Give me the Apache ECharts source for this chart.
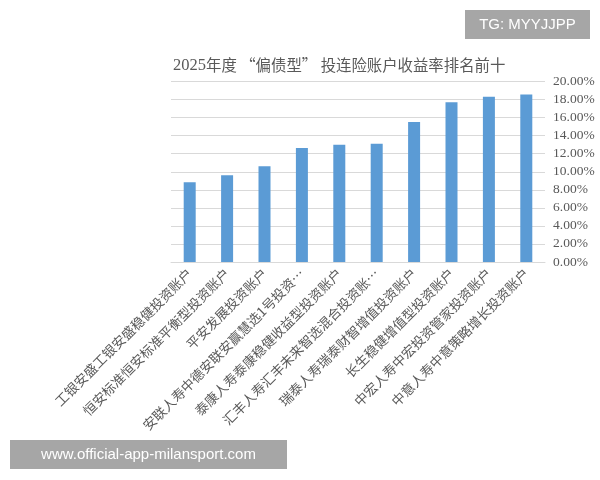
<!DOCTYPE html>
<html>
<head>
<meta charset="utf-8">
<script src="https://cdn.jsdelivr.net/npm/echarts@6/dist/echarts.min.js"></script>
<style>html,body{margin:0;padding:0;background:#fff;}#c{width:600px;height:480px;}</style>
</head>
<body>
<div id="c"></div>
<script>
var titleYear = '2025';
var titleRest = '年度 “偏债型” 投连险账户收益率排名前十';
var categories = [
  '工银安盛工银安盛稳健投资账户',
  '恒安标准恒安标准平衡型投资账户',
  '平安发展投资账户',
  '安联人寿中德安联安赢慧选1号投资…',
  '泰康人寿泰康稳健收益型投资账户',
  '汇丰人寿汇丰未来智选混合投资账…',
  '瑞泰人寿瑞泰财智增值投资账户',
  '长生稳健增值型投资账户',
  '中宏人寿中宏投资管家投资账户',
  '中意人寿中意策略增长投资账户'
];
var returns = [0.0883, 0.0960, 0.1060, 0.1264, 0.1300, 0.1310, 0.1550, 0.1770, 0.1830, 0.1855];
var yMin = 0, yMax = 0.20, yStep = 0.02;
var tgText = 'TG: MYYJJPP';
var urlText = 'www.official-app-milansport.com';

var chart = echarts.init(document.getElementById('c'), null, {renderer: 'canvas'});
chart.setOption({
  animation: false,
  backgroundColor: '#ffffff',
  title: {
    text: '{y|' + titleYear + '}{c|' + titleRest + '}',
    left: 168, top: 52,
    textStyle: {
      fontWeight: 'normal',
      rich: {
        y: {fontFamily: 'Liberation Serif', fontSize: 16.5, fontWeight: 'normal', color: '#595959'},
        c: {fontFamily: 'Noto Sans CJK SC', fontSize: 15.4, fontWeight: 'normal', color: '#595959'}
      }
    }
  },
  grid: {left: 171, right: 55, top: 81.5, bottom: 218, containLabel: false},
  xAxis: {
    type: 'category',
    data: categories,
    axisLine: {show: true, lineStyle: {color: '#d9d9d9'}},
    axisTick: {show: false},
    axisLabel: {rotate: 45, interval: 0, margin: 9, fontSize: 13.4, color: '#5a5a5a', fontFamily: 'Noto Sans CJK SC'}
  },
  yAxis: {
    type: 'value',
    position: 'right',
    min: yMin, max: yMax, interval: yStep,
    axisLine: {show: false},
    axisTick: {show: false},
    splitLine: {lineStyle: {color: '#d9d9d9'}},
    axisLabel: {
      margin: 8, fontSize: 13.5, color: '#595959', fontFamily: 'Liberation Serif',
      formatter: function (v) { return (v * 100).toFixed(2) + '%'; }
    }
  },
  series: [{
    type: 'bar',
    data: returns,
    barWidth: 12,
    itemStyle: {color: '#5b9bd5'}
  }],
  graphic: [
    {type: 'rect', shape: {x: 465, y: 10, width: 125, height: 29}, style: {fill: '#a6a6a6'}, z: 100},
    {type: 'text', x: 527.5, y: 24.5, style: {text: tgText, fill: '#ffffff', font: '15px Liberation Sans, sans-serif', textAlign: 'center', textVerticalAlign: 'middle'}, z: 101},
    {type: 'rect', shape: {x: 10, y: 440, width: 277, height: 29}, style: {fill: '#a6a6a6'}, z: 100},
    {type: 'text', x: 148.5, y: 454.5, style: {text: urlText, fill: '#ffffff', font: '15px Liberation Sans, sans-serif', textAlign: 'center', textVerticalAlign: 'middle'}, z: 101}
  ]
});
</script>
</body>
</html>
